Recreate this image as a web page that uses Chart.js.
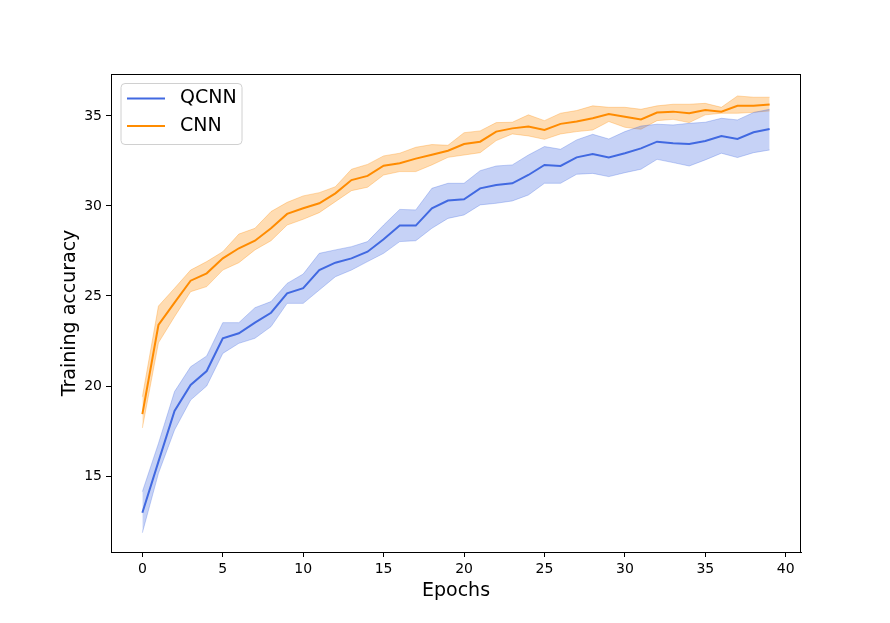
<!DOCTYPE html>
<html>
<head>
<meta charset="utf-8">
<script src="https://cdn.jsdelivr.net/npm/chart.js@4.4.1/dist/chart.umd.min.js"></script>
<style>
  html, body { margin: 0; padding: 0; background: #fff; }
  #wrap { width: 890px; height: 623px; }
</style>
</head>
<body>
<div id="wrap"><canvas id="myChart" width="890" height="623"></canvas></div>
<script>
// epoche e valori
const epochs = [0, 1, 2, 3, 4, 5, 6, 7, 8, 9, 10, 11, 12, 13, 14, 15, 16, 17, 18, 19,
  20, 21, 22, 23, 24, 25, 26, 27, 28, 29, 30, 31, 32, 33, 34, 35, 36, 37, 38, 39];

const qcnnMean = [12.96, 15.8, 18.61, 20.06, 20.83, 22.65, 22.93, 23.52, 24.07, 25.15,
  25.43, 26.44, 26.85, 27.09, 27.46, 28.15, 28.91, 28.91, 29.87, 30.3,
  30.37, 30.98, 31.17, 31.26, 31.72, 32.28, 32.22, 32.7, 32.89, 32.69,
  32.93, 33.2, 33.57, 33.48, 33.44, 33.61, 33.89, 33.72, 34.09, 34.28];
const qcnnUpper = [14.13, 16.81, 19.69, 21.07, 21.67, 23.52, 23.52, 24.35, 24.69, 25.7,
  26.22, 27.37, 27.56, 27.74, 28.02, 28.94, 29.81, 29.78, 30.98, 31.26,
  31.26, 31.96, 32.22, 32.28, 32.83, 33.3, 33.15, 33.67, 33.98, 33.72,
  34.13, 34.44, 34.54, 34.5, 34.59, 34.65, 34.87, 34.78, 35.19, 35.37];
const qcnnLower = [11.85, 15.15, 17.56, 19.22, 20.0, 21.81, 22.37, 22.65, 23.3, 24.59,
  24.59, 25.33, 26.07, 26.44, 26.91, 27.37, 28.02, 28.07, 28.76, 29.31,
  29.5, 30.06, 30.15, 30.28, 30.61, 31.26, 31.26, 31.76, 31.81, 31.63,
  31.85, 32.04, 32.59, 32.41, 32.22, 32.56, 32.93, 32.69, 32.96, 33.11];

const cnnMean = [18.44, 23.39, 24.63, 25.85, 26.26, 27.09, 27.65, 28.07, 28.76, 29.56,
  29.87, 30.15, 30.7, 31.44, 31.67, 32.24, 32.37, 32.63, 32.85, 33.07,
  33.44, 33.57, 34.13, 34.31, 34.41, 34.22, 34.56, 34.69, 34.87, 35.11,
  34.96, 34.81, 35.19, 35.24, 35.15, 35.33, 35.24, 35.56, 35.56, 35.63];
const cnnUpper = [19.4, 24.44, 25.43, 26.44, 26.91, 27.46, 28.44, 28.76, 29.69, 30.2,
  30.56, 30.74, 31.07, 32.04, 32.31, 32.78, 32.93, 33.26, 33.41, 33.37,
  34.07, 34.17, 34.63, 34.65, 35.06, 34.74, 35.15, 35.3, 35.56, 35.48,
  35.48, 35.37, 35.56, 35.65, 35.65, 35.7, 35.48, 36.11, 36.04, 36.04];
const cnnLower = [17.67, 22.4, 23.85, 25.24, 25.52, 26.44, 26.85, 27.56, 28.07, 28.94,
  29.26, 29.63, 30.24, 30.85, 31.04, 31.72, 31.91, 31.91, 32.28, 32.7,
  32.83, 32.96, 33.63, 34.0, 33.89, 33.7, 34.0, 34.13, 34.22, 34.69,
  34.37, 34.26, 34.74, 34.81, 34.63, 35.06, 35.15, 35.15, 35.2, 35.28];

// tick dell'asse
const xTicks = [0, 5, 10, 15, 20, 25, 30, 35, 40];
const yTicks = [15, 20, 25, 30, 35];

const seriesLabels = ["QCNN", "CNN"];

const BLUE = "#4169E1";
const BLUE_FILL = "rgba(65,105,225,0.3)";
const ORANGE = "#FF8C00";
const ORANGE_FILL = "rgba(255,140,0,0.3)";

const FONT = "'DejaVu Sans', sans-serif";

function pts(arr) {
  return epochs.map((e, i) => ({ x: e, y: arr[i] }));
}

function band(arr, color, fill) {
  return {
    data: pts(arr),
    borderColor: color,
    backgroundColor: color,
    borderWidth: 1,
    pointRadius: 0,
    fill: fill,
    tension: 0,
    isBand: true
  };
}

function mainLine(label, arr, color) {
  return {
    label: label,
    data: pts(arr),
    borderColor: color,
    backgroundColor: color,
    borderWidth: 2,
    pointRadius: 0,
    fill: false,
    tension: 0
  };
}

// cornice (tutti e quattro i lati) + legenda in alto a sinistra
const framePlugin = {
  id: "frame",
  afterDraw(chart) {
    const { ctx, chartArea: a } = chart;
    ctx.save();
    ctx.strokeStyle = "#000";
    ctx.lineWidth = 1;
    ctx.strokeRect(a.left + 0.5, a.top + 0.5, a.right - a.left - 1, a.bottom - a.top);

    // legenda
    const lx = a.left + 10, ly = a.top + 9.5, lw = 121, lh = 61, r = 4;
    ctx.beginPath();
    ctx.moveTo(lx + r, ly);
    ctx.arcTo(lx + lw, ly, lx + lw, ly + lh, r);
    ctx.arcTo(lx + lw, ly + lh, lx, ly + lh, r);
    ctx.arcTo(lx, ly + lh, lx, ly, r);
    ctx.arcTo(lx, ly, lx + lw, ly, r);
    ctx.closePath();
    ctx.fillStyle = "rgba(255,255,255,0.8)";
    ctx.fill();
    ctx.strokeStyle = "#d0d0d0";
    ctx.stroke();

    const lines = chart.data.datasets.filter(d => !d.isBand);
    ctx.font = "19px " + FONT;
    ctx.textBaseline = "middle";
    lines.forEach((d, i) => {
      const y = ly + 15 + i * 27.5;
      ctx.strokeStyle = d.borderColor;
      ctx.lineWidth = 2;
      ctx.beginPath();
      ctx.moveTo(lx + 6, y);
      ctx.lineTo(lx + 44, y);
      ctx.stroke();
      ctx.fillStyle = "#000";
      ctx.fillText(d.label, lx + 59, y);
    });
    ctx.restore();
  }
};

const myChart = document.getElementById("myChart");

new Chart(myChart, {
  type: "line",
  data: {
    datasets: [
      band(qcnnUpper, BLUE_FILL, false),
      band(qcnnLower, BLUE_FILL, "-1"),
      mainLine(seriesLabels[0], qcnnMean, BLUE),
      band(cnnUpper, ORANGE_FILL, false),
      band(cnnLower, ORANGE_FILL, "-1"),
      mainLine(seriesLabels[1], cnnMean, ORANGE)
    ]
  },
  options: {
    responsive: false,
    animation: false,
    events: [],
    layout: { padding: { top: 74, right: 89, left: 0, bottom: 0 } },
    plugins: {
      legend: { display: false },
      tooltip: { enabled: false },
      filler: { propagate: false }
    },
    scales: {
      x: {
        type: "linear",
        min: -1.95,
        max: 40.95,
        afterBuildTicks: s => { s.ticks = xTicks.map(v => ({ value: v })); },
        afterFit: s => { s.height = 71; },
        grid: { drawOnChartArea: false, drawTicks: true, tickLength: 5, color: "#000" },
        border: { display: true, color: "#000", width: 1 },
        ticks: { color: "#000", padding: 4, font: { family: FONT, size: 14 }, maxRotation: 0 },
        title: {
          display: true,
          text: "Epochs",
          color: "#000",
          font: { family: FONT, size: 19 },
          padding: { top: 0, bottom: 21 }
        }
      },
      y: {
        type: "linear",
        min: 10.78,
        max: 37.33,
        afterBuildTicks: s => { s.ticks = yTicks.map(v => ({ value: v })); },
        afterFit: s => { s.width = 111; },
        grid: { drawOnChartArea: false, drawTicks: true, tickLength: 5, color: "#000" },
        border: { display: true, color: "#000", width: 1 },
        ticks: { color: "#000", padding: 4, font: { family: FONT, size: 14 } },
        title: {
          display: true,
          text: "Training accuracy",
          color: "#000",
          font: { family: FONT, size: 19 },
          padding: { top: 59, bottom: 0 }
        }
      }
    }
  },
  plugins: [framePlugin]
});
</script>
</body>
</html>
